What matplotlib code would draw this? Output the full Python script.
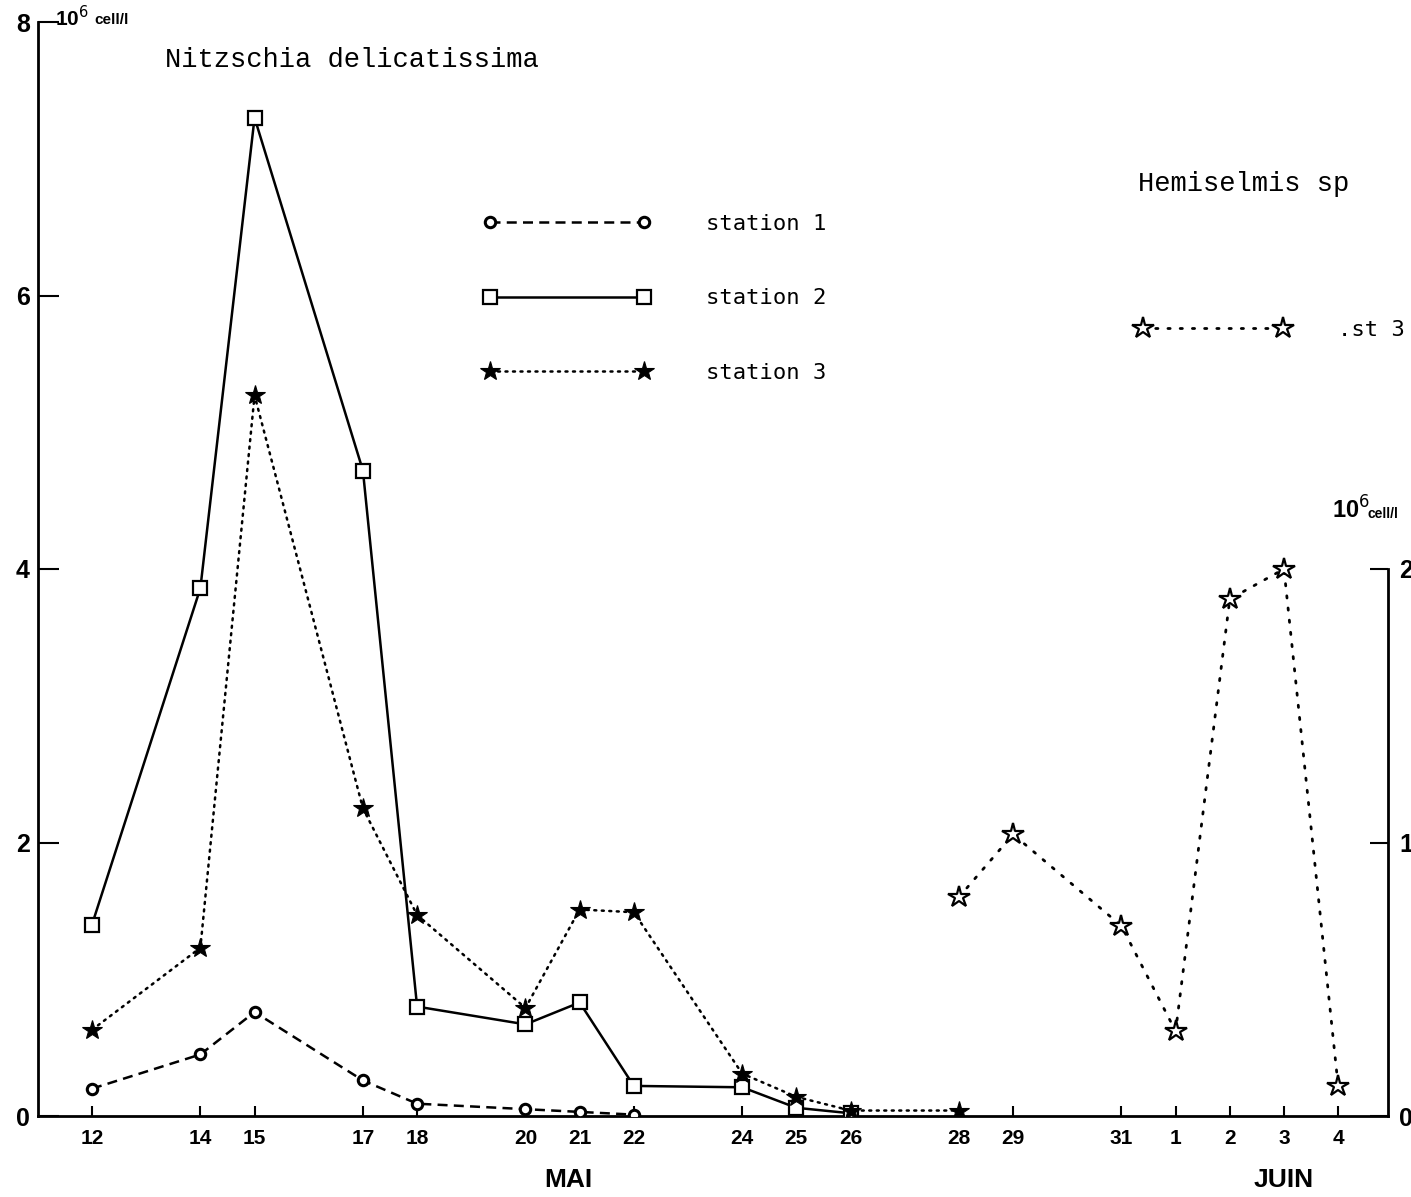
import matplotlib
matplotlib.use("Agg")
import matplotlib.pyplot as plt
from matplotlib.font_manager import FontProperties
from matplotlib.transforms import blended_transform_factory

# ---------------- data ----------------
tick_dates = ['05-12', '05-14', '05-15', '05-17', '05-18', '05-20', '05-21', '05-22',
              '05-24', '05-25', '05-26', '05-28', '05-29', '05-31',
              '06-01', '06-02', '06-03', '06-04']
tick_labels = ['12', '14', '15', '17', '18', '20', '21', '22', '24', '25', '26',
               '28', '29', '31', '1', '2', '3', '4']

s1_dates = ['05-12', '05-14', '05-15', '05-17', '05-18', '05-20', '05-21', '05-22']
s1_vals = [0.20, 0.45, 0.76, 0.26, 0.09, 0.05, 0.03, 0.01]

s2_dates = ['05-12', '05-14', '05-15', '05-17', '05-18', '05-20', '05-21', '05-22',
            '05-24', '05-25', '05-26']
s2_vals = [1.40, 3.86, 7.30, 4.72, 0.80, 0.67, 0.83, 0.22, 0.21, 0.06, 0.02]

s3_dates = ['05-12', '05-14', '05-15', '05-17', '05-18', '05-20', '05-21', '05-22',
            '05-24', '05-25', '05-26', '05-28']
s3_vals = [0.63, 1.23, 5.27, 2.25, 1.47, 0.79, 1.51, 1.49, 0.31, 0.14, 0.04, 0.04]

hem_dates = ['05-28', '05-29', '05-31', '06-01', '06-02', '06-03', '06-04']
hem_vals = [0.80, 1.03, 0.695, 0.31, 1.89, 2.00, 0.11]

left_ticks = [0, 2, 4, 6, 8]
right_ticks = [0, 1, 2]

series_labels = ['station 1', 'station 2', 'station 3']
hem_label = '.st 3'


def day_index(s):
    m, d = (int(v) for v in s.split('-'))
    return d - 12 if m == 5 else 19 + d


def xs(dates):
    return [day_index(d) for d in dates]


# ---------------- figure ----------------
W, H = 1411, 1197
fig = plt.figure(figsize=(W / 100, H / 100), dpi=100)
fig.patch.set_facecolor('white')

x0, x1 = 38, 1388
y_top, y_bot = 22, 1116
ax = fig.add_axes([x0 / W, 1 - y_bot / H, (x1 - x0) / W, (y_bot - y_top) / H])
ax.set_xlim(-0.997, 23.92)
ax.set_ylim(0, 8)

tick_font = FontProperties(family='Liberation Sans', weight='bold', size=15)
mono = FontProperties(family='DejaVu Sans Mono', size=16)
type_font = FontProperties(family='Liberation Mono', size=19.5)

for sp in ['top', 'right']:
    ax.spines[sp].set_visible(False)
for sp in ['left', 'bottom']:
    ax.spines[sp].set_linewidth(2.0)

ax.set_xticks(xs(tick_dates))
ax.set_xticklabels(tick_labels, fontproperties=tick_font)
ax.tick_params(axis='x', direction='in', length=7, width=1.5, pad=9)
ax.set_yticks(left_ticks)
ax.set_yticklabels([str(v) for v in left_ticks], fontproperties=tick_font)
for lab in ax.get_yticklabels():
    lab.set_fontsize(18)
ax.tick_params(axis='y', direction='in', length=15, width=1.5, pad=6)

# series
l1, = ax.plot(xs(s1_dates), s1_vals, color='black', lw=1.8, ls=(0, (4, 2.5)),
              marker='o', ms=7.5, mfc='white', mec='black', mew=2.2, zorder=4)
l2, = ax.plot(xs(s2_dates), s2_vals, color='black', lw=1.8, ls='-',
              marker='s', ms=10, mfc='white', mec='black', mew=1.6, zorder=3)
l3, = ax.plot(xs(s3_dates), s3_vals, color='black', lw=1.8, ls=(0, (0.8, 2.2)),
              dash_capstyle='round',
              marker='*', ms=15, mfc='black', mec='black', mew=0.8, zorder=5)

ax2 = ax.twinx()
ax2.set_position(ax.get_position())
ax2.set_ylim(0, 4)
for sp in ['top', 'left', 'bottom']:
    ax2.spines[sp].set_visible(False)
ax2.spines['right'].set_bounds(0, 2)
ax2.spines['right'].set_linewidth(2.0)
ax2.set_yticks(right_ticks)
ax2.set_yticklabels([str(v) for v in right_ticks], fontproperties=tick_font)
for lab in ax2.get_yticklabels():
    lab.set_fontsize(18)
ax2.tick_params(axis='y', direction='in', length=13, width=1.5, pad=8)

l4, = ax2.plot(xs(hem_dates), hem_vals, color='black', lw=2.0, ls=(0, (0.8, 3.6)),
               dash_capstyle='round',
               marker='*', ms=16, mfc='white', mec='black', mew=1.6, zorder=5)

# legends
fs_px = 16 * 100 / 72
leg1 = ax2.legend(handles=[l1, l2, l3], labels=series_labels, prop=mono,
                  loc='upper left', bbox_to_anchor=(483 / W, 1 - 214 / H),
                  bbox_transform=fig.transFigure, frameon=False,
                  handlelength=168 / fs_px, handletextpad=55 / fs_px,
                  labelspacing=2.45, borderpad=0, borderaxespad=0, numpoints=2)
ax2.add_artist(leg1)
ax2.legend(handles=[l4], labels=[hem_label], prop=mono,
           loc='upper left', bbox_to_anchor=(1136 / W, 1 - 320 / H),
           bbox_transform=fig.transFigure, frameon=False,
           handlelength=154 / fs_px, handletextpad=48 / fs_px,
           borderpad=0, borderaxespad=0, numpoints=2)

# titles
fig.text(165 / W, 1 - 60 / H, 'Nitzschia delicatissima', fontproperties=type_font,
         ha='left', va='center')
fig.text(1138 / W, 1 - 184 / H, 'Hemiselmis sp', fontproperties=type_font,
         ha='left', va='center')

# unit labels
fig.text(55 / W, 1 - 18 / H, r'10$^{6}$', fontproperties=tick_font, fontsize=15,
         ha='left', va='center')
fig.text(94 / W, 1 - 20 / H, 'cell/l', fontproperties=tick_font, fontsize=11,
         ha='left', va='center')
fig.text(1332 / W, 1 - 510 / H, r'10$^{6}$', fontproperties=tick_font,
         fontsize=17, ha='left', va='center')
fig.text(1368 / W, 1 - 514 / H, 'cell/l', fontproperties=tick_font,
         fontsize=10, ha='left', va='center')

# month labels
trans = blended_transform_factory(ax.transData, fig.transFigure)
fig_font = FontProperties(family='Liberation Sans', weight='bold', size=19)
ax.text(day_index('05-20') + 0.8, 1 - 1180 / H, 'MAI', transform=trans,
        fontproperties=fig_font, ha='center', va='center')
ax.text(day_index('06-03'), 1 - 1180 / H, 'JUIN', transform=trans,
        fontproperties=fig_font, ha='center', va='center')

fig.savefig('out.png', dpi=100, facecolor='white')
